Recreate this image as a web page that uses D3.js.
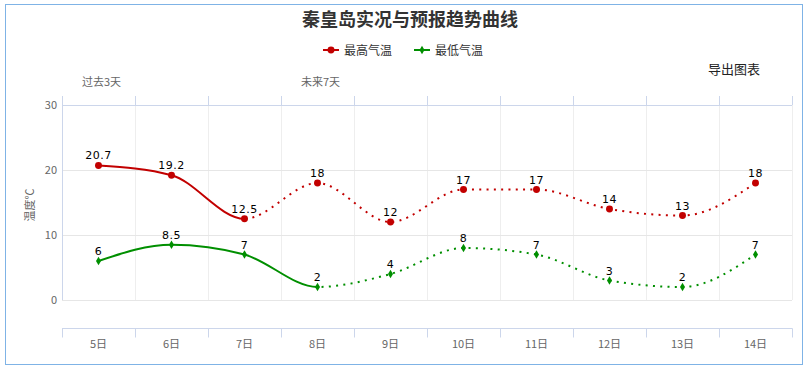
<!DOCTYPE html>
<html>
<head>
<meta charset="utf-8">
<script src="https://d3js.org/d3.v7.min.js"></script>
<style>
    html, body { margin: 0; padding: 0; background: #fff; }
    body { font-family: "Noto Sans CJK SC", "DejaVu Sans", sans-serif; }
    svg text { fill: #666; }
    .title { fill: #333; font-size: 18px; font-weight: bold; }
    .legend text { fill: #333; font-size: 12px; }
    .dlabel { fill: #000; font-size: 11px; font-family: "DejaVu Sans", sans-serif; }
</style>
</head>
<body>
<div id="chart"></div>
<script>
var days = ["5日", "6日", "7日", "8日", "9日", "10日", "11日", "12日", "13日", "14日"];
var maxTemp = [20.7, 19.2, 12.5, 18, 12, 17, 17, 14, 13, 18];
var minTemp = [6, 8.5, 7, 2, 4, 8, 7, 3, 2, 7];
var yTicks = [0, 10, 20, 30];
var periodLabels = ["过去3天", "未来7天"];
var periodAt = [0, 3];      // category where each period label sits
var maxSolidEnd = 2;        // last observed point of each series
var minSolidEnd = 3;

var W = 807, H = 370;
var pLeft = 62, pRight = 792, pTop = 105, pBottom = 300, axisY = 328;

var svg = d3.select("#chart").append("svg")
    .attr("width", W).attr("height", H);

// outer frame
svg.append("rect")
    .attr("x", 5.5).attr("y", 4.5).attr("width", 797).attr("height", 360)
    .attr("fill", "none").attr("stroke", "#7fb3e6");

var x = d3.scaleBand().domain(days).range([pLeft, pRight]);
var y = d3.scaleLinear().domain([0, 30]).range([pBottom, pTop]);
var cx = function(i) { return x(days[i]) + x.bandwidth() / 2; };

// vertical grid lines at category boundaries
var bounds = days.map(function(d) { return x(d); }).concat([pRight]);
svg.append("g").selectAll("line").data(bounds.slice(1)).enter().append("line")
    .attr("x1", function(d) { return Math.round(d) + 0.5; })
    .attr("x2", function(d) { return Math.round(d) + 0.5; })
    .attr("y1", pTop).attr("y2", pBottom)
    .attr("stroke", "#eeeeee");

// horizontal grid lines
svg.append("g").selectAll("line").data(yTicks).enter().append("line")
    .attr("x1", pLeft).attr("x2", pRight)
    .attr("y1", function(d) { return Math.round(y(d)) + 0.5; })
    .attr("y2", function(d) { return Math.round(y(d)) + 0.5; })
    .attr("stroke", function(d) { return d == 30 ? "#ccd6eb" : "#e6e6e6"; });

// y labels
svg.append("g").selectAll("text").data(yTicks).enter().append("text")
    .attr("x", 57).attr("y", function(d) { return y(d) + 4; })
    .attr("text-anchor", "end").style("font-size", "11px")
    .text(function(d) { return d; });

// left axis line
svg.append("line")
    .attr("x1", pLeft + 0.5).attr("x2", pLeft + 0.5).attr("y1", 96).attr("y2", pBottom)
    .attr("stroke", "#ccd6eb");

// top ticks
svg.append("g").selectAll("line").data(bounds).enter().append("line")
    .attr("x1", function(d) { return Math.round(d) + 0.5; })
    .attr("x2", function(d) { return Math.round(d) + 0.5; })
    .attr("y1", 96).attr("y2", pTop)
    .attr("stroke", "#ccd6eb");

// bottom axis (offset)
var xAxis = svg.append("g")
    .attr("transform", "translate(0," + (axisY + 0.5) + ")");
xAxis.append("line").attr("x1", pLeft).attr("x2", pRight + 0.5)
    .attr("y1", 0).attr("y2", 0).attr("stroke", "#ccd6eb");
xAxis.selectAll(".tk").data(bounds).enter().append("line")
    .attr("x1", function(d) { return Math.round(d) + 0.5; })
    .attr("x2", function(d) { return Math.round(d) + 0.5; })
    .attr("y1", 0).attr("y2", 9)
    .attr("stroke", "#ccd6eb");
xAxis.selectAll("text").data(days).enter().append("text")
    .attr("x", function(d) { return x(d) + x.bandwidth() / 2; })
    .attr("y", 19).attr("text-anchor", "middle").style("font-size", "11px")
    .text(function(d) { return d; });

// period labels
svg.append("g").selectAll("text").data(periodLabels).enter().append("text")
    .attr("x", function(d, i) { return x(days[periodAt[i]]) + 20; })
    .attr("y", 86).style("font-size", "11px")
    .text(function(d) { return d; });

// y title
svg.append("text")
    .attr("transform", "translate(34,205) rotate(-90)")
    .attr("text-anchor", "middle").style("font-size", "11px")
    .text("温度℃");

// title
svg.append("text").attr("class", "title")
    .attr("x", 410).attr("y", 26).attr("text-anchor", "middle")
    .text("秦皇岛实况与预报趋势曲线");

svg.append("text")
    .attr("x", 734).attr("y", 74).attr("text-anchor", "middle")
    .style("font-size", "13px").style("fill", "#222")
    .text("导出图表");

// clip paths for solid / dotted parts
function addClip(id, x0, x1) {
    svg.append("clipPath").attr("id", id).append("rect")
        .attr("x", x0).attr("y", 0).attr("width", x1 - x0).attr("height", H);
}
addClip("maxSolid", 0, cx(maxSolidEnd));
addClip("maxDot", cx(maxSolidEnd), W);
addClip("minSolid", 0, cx(minSolidEnd));
addClip("minDot", cx(minSolidEnd), W);

var line = d3.line()
    .x(function(d, i) { return cx(i); })
    .y(function(d) { return y(d); })
    .curve(d3.curveMonotoneX);

var series = [
    {name: "最高气温", data: maxTemp, color: "#c20000", symbol: d3.symbolCircle, size: 38, clip: "max"},
    {name: "最低气温", data: minTemp, color: "#008f00", symbol: d3.symbolDiamond, size: 22, clip: "min"}
];

series.forEach(function(s) {
    svg.append("path").attr("d", line(s.data))
        .attr("fill", "none").attr("stroke", s.color).attr("stroke-width", 2)
        .attr("clip-path", "url(#" + s.clip + "Solid)");
    svg.append("path").attr("d", line(s.data))
        .attr("fill", "none").attr("stroke", s.color).attr("stroke-width", 2)
        .attr("stroke-dasharray", "2,5.3")
        .attr("clip-path", "url(#" + s.clip + "Dot)");
    svg.append("g").selectAll("path").data(s.data).enter().append("path")
        .attr("d", d3.symbol().type(s.symbol).size(s.size))
        .attr("transform", function(d, i) { return "translate(" + cx(i) + "," + y(d) + ")"; })
        .attr("fill", s.color);
    svg.append("g").selectAll("text").data(s.data).enter().append("text")
        .attr("class", "dlabel")
        .attr("x", function(d, i) { return cx(i); })
        .attr("y", function(d) { return y(d) - 6; })
        .attr("text-anchor", "middle")
        .style("letter-spacing", "0.5px")
        .text(function(d) { return d; });
});

// legend
var legend = svg.append("g").attr("class", "legend");
var legendX = [323, 414];
series.forEach(function(s, i) {
    var g = legend.append("g").attr("transform", "translate(" + legendX[i] + ",50)");
    g.append("line").attr("x1", 0).attr("x2", 16).attr("y1", 0).attr("y2", 0)
        .attr("stroke", s.color).attr("stroke-width", 2);
    g.append("path").attr("d", d3.symbol().type(s.symbol).size(s.size))
        .attr("transform", "translate(8,0)").attr("fill", s.color);
    g.append("text").attr("x", 21).attr("y", 4.5).text(s.name);
});
</script>
</body>
</html>
